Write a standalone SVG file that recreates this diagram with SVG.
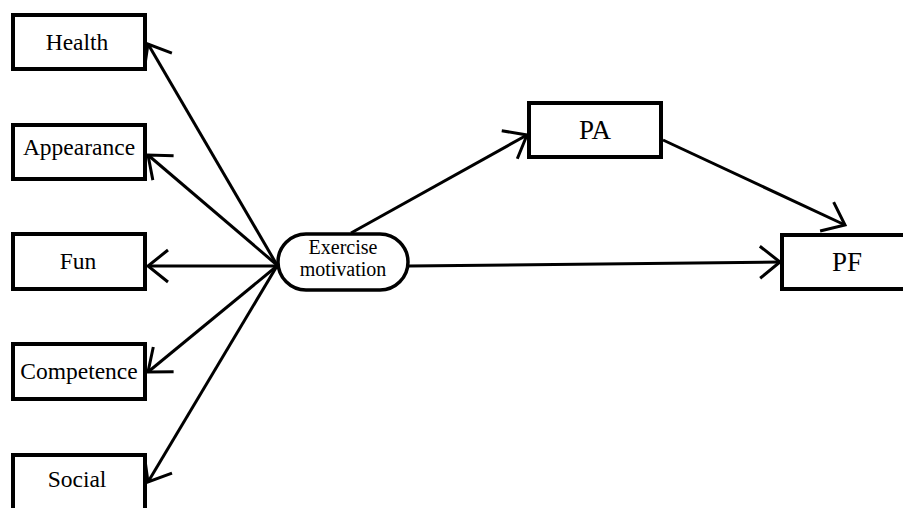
<svg xmlns="http://www.w3.org/2000/svg" width="903" height="508" viewBox="0 0 903 508">
<style>
.box{fill:#fff;stroke:#000;stroke-width:4}
.pill{fill:#fff;stroke:#000;stroke-width:3.5}
.t{font-family:"Liberation Serif","DejaVu Serif","Times New Roman",serif;fill:#000;text-anchor:middle}
.c{fill:none;stroke:#000;stroke-width:3}
</style>
<defs>
<marker id="ah" markerUnits="userSpaceOnUse" markerWidth="40" markerHeight="40" viewBox="-25 -20 30 40" refX="0" refY="0" orient="auto">
<path d="M-20,-16 L0,0 L-20,16" fill="none" stroke="#000" stroke-width="3"/>
</marker>
</defs>
<g id="connectors">
<line class="c" x1="277" y1="265" x2="148" y2="44" marker-end="url(#ah)"/>
<line class="c" x1="277" y1="265" x2="148" y2="155" marker-end="url(#ah)"/>
<line class="c" x1="277" y1="266" x2="148" y2="266" marker-end="url(#ah)"/>
<line class="c" x1="277" y1="266" x2="148" y2="372" marker-end="url(#ah)"/>
<line class="c" x1="277" y1="266" x2="148" y2="482" marker-end="url(#ah)"/>
<line class="c" x1="351" y1="233" x2="527" y2="135" marker-end="url(#ah)"/>
<line class="c" x1="663" y1="140" x2="845" y2="225" marker-end="url(#ah)"/>
<line class="c" x1="409" y1="266" x2="780" y2="262" marker-end="url(#ah)"/>
</g>
<g id="health"><rect class="box" x="13" y="15" width="132" height="54"/><text class="t" x="77" y="50" font-size="23.5">Health</text></g>
<g id="appearance"><rect class="box" x="13" y="125" width="132" height="54"/><text class="t" x="79" y="155" font-size="23.5">Appearance</text></g>
<g id="fun"><rect class="box" x="13" y="234" width="132" height="55"/><text class="t" x="78" y="269" font-size="23.5">Fun</text></g>
<g id="competence"><rect class="box" x="13" y="344" width="132" height="55"/><text class="t" x="79" y="379" font-size="23.5">Competence</text></g>
<g id="social"><rect class="box" x="13" y="455" width="132" height="56"/><text class="t" x="77" y="487" font-size="23.5">Social</text></g>
<g id="exercise-motivation"><rect class="pill" x="278" y="234" width="130" height="56" rx="28" ry="28"/><text class="t" x="343" y="254" font-size="20">Exercise</text><text class="t" x="343" y="276" font-size="20">motivation</text></g>
<g id="pa"><rect class="box" x="529" y="103" width="132" height="54"/><text class="t" x="595" y="139" font-size="27">PA</text></g>
<g id="pf"><rect class="box" x="782" y="235" width="132" height="54"/><text class="t" x="847" y="271" font-size="27">PF</text></g>
</svg>
